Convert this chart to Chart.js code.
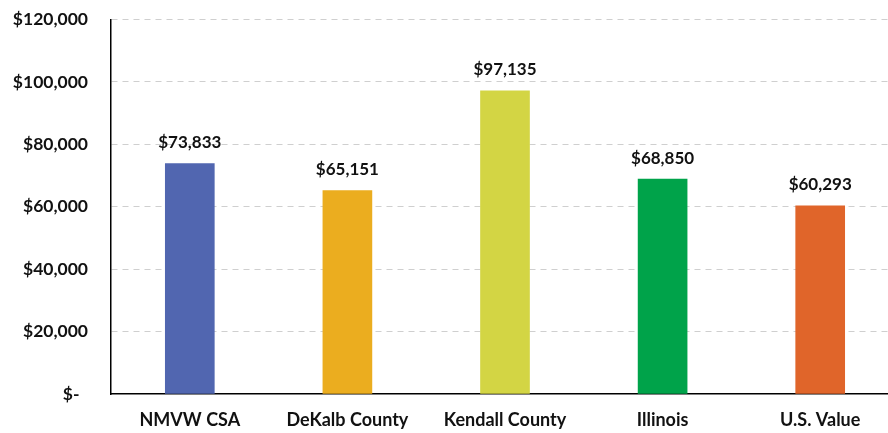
<!DOCTYPE html>
<html>
<head>
<meta charset="utf-8">
<script src="https://cdn.jsdelivr.net/npm/chart.js@4"></script>
<style>
  html, body { margin: 0; padding: 0; background: #fff; overflow: hidden; }
  #wrap { width: 899px; height: 447px; margin-top: -14px; position: relative; }
</style>
</head>
<body>
<div id="wrap"><canvas id="incomeChart"></canvas></div>
<script>
// categories and values
const categories = ["NMVW CSA", "DeKalb County", "Kendall County", "Illinois", "U.S. Value"];
const incomeValues = [73833, 65151, 97135, 68850, 60293];
const barColors = ["#5166B0", "#EBAD1F", "#D3D544", "#00A34A", "#E0652A"];
const yTicks = [0, 20000, 40000, 60000, 80000, 100000, 120000];

const fontFamily = "Lato, 'Open Sans', sans-serif";

function money(v) {
  if (v === 0) return "$-  ";
  return "$" + v.toLocaleString("en-US");
}

// draw the value above each bar
const valueLabels = {
  id: "valueLabels",
  afterDatasetsDraw(chart) {
    const c = chart.ctx;
    const meta = chart.getDatasetMeta(0);
    c.save();
    c.font = "bold 17px " + fontFamily;
    c.fillStyle = "#111";
    c.textAlign = "center";
    c.textBaseline = "middle";
    meta.data.forEach((bar, i) => {
      c.fillText(money(incomeValues[i]), bar.x, bar.y - 21);
    });
    c.restore();
  },
};

const ctx = document.getElementById("incomeChart").getContext("2d");

new Chart(ctx, {
  type: "bar",
  data: {
    labels: categories,
    datasets: [
      {
        data: incomeValues,
        backgroundColor: barColors,
        barThickness: 49,
      },
    ],
  },
  options: {
    responsive: true,
    maintainAspectRatio: false,
    animation: false,
    layout: { padding: { top: 10, right: 0, bottom: 0, left: 0 } },
    plugins: {
      legend: { display: false },
      tooltip: { enabled: false },
    },
    scales: {
      x: {
        grid: { display: false, drawTicks: false },
        border: { color: "#000", width: 1.5 },
        ticks: {
          color: "#111",
          font: { family: fontFamily, size: 18, weight: "bold" },
          padding: 15,
        },
        afterFit(scale) {
          scale.height = 39;
        },
      },
      y: {
        min: 0,
        max: 120000,
        afterBuildTicks(scale) {
          scale.ticks = yTicks.map((v) => ({ value: v }));
        },
        grid: {
          // no grid line at zero, the x axis sits there
          color: (c) => (c.tick && c.tick.value === 0 ? "rgba(0,0,0,0)" : "#cfcfcf"),
          drawTicks: false,
        },
        // in v4 border.dash is what dashes the grid lines
        border: { color: "#000", width: 1.5, dash: [6, 5] },
        ticks: {
          color: "#111",
          font: { family: fontFamily, size: 17.5, weight: "bold" },
          padding: 23,
          callback: (v) => money(v),
        },
        afterFit(scale) {
          scale.width = 111;
        },
      },
    },
  },
  plugins: [valueLabels],
});
</script>
</body>
</html>
